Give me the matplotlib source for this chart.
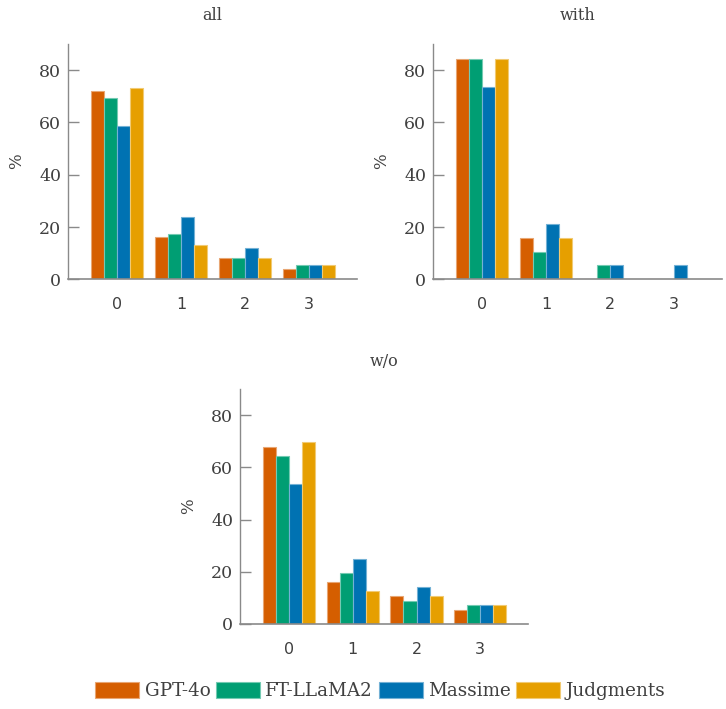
import matplotlib
matplotlib.use("Agg")
import matplotlib.pyplot as plt
import matplotlib.colors as mcolors
import numpy as np

plt.rcParams['font.family'] = ['DejaVu Serif']
plt.rcParams['font.size'] = 10

# data (percent of items per error count)
categories = [0, 1, 2, 3]
series = ["GPT-4o", "FT-LLaMA2", "Massime", "Judgments"]
colors = ["#D55E00", "#009E73", "#0072B2", "#E69F00"]

all_vals = {
    "GPT-4o":    [72.0, 16.0, 8.0, 4.0],
    "FT-LLaMA2": [69.3, 17.3, 8.0, 5.3],
    "Massime":   [58.7, 24.0, 12.0, 5.3],
    "Judgments": [73.3, 13.3, 8.0, 5.3],
}
with_vals = {
    "GPT-4o":    [84.2, 15.8, 0.0, 0.0],
    "FT-LLaMA2": [84.2, 10.5, 5.3, 0.0],
    "Massime":   [73.7, 21.1, 5.3, 5.3],
    "Judgments": [84.2, 15.8, 0.0, 0.0],
}
wo_vals = {
    "GPT-4o":    [67.9, 16.1, 10.7, 5.4],
    "FT-LLaMA2": [64.3, 19.6, 8.9, 7.1],
    "Massime":   [53.6, 25.0, 14.3, 7.1],
    "Judgments": [69.6, 12.5, 10.7, 7.1],
}

text_col = "#404040"
axis_col = "#8a8a8a"


def lighten(c, f=0.45):
    r, g, b = mcolors.to_rgb(c)
    return (r + (1 - r) * f, g + (1 - g) * f, b + (1 - b) * f)


def draw_panel(ax, vals, title):
    x = np.arange(len(categories))
    w = 0.205
    for i, (name, col) in enumerate(zip(series, colors)):
        ax.bar(x + (i - 1.5) * w, vals[name], width=w, color=col,
               edgecolor=lighten(col), linewidth=0.8, label=name, zorder=2)
    ax.set_xlim(-0.77, 3.75)
    ax.set_ylim(0, 90)
    ax.set_xticks(x)
    ax.set_xticklabels([str(c) for c in categories], family='DejaVu Sans')
    ax.set_yticks([0, 20, 40, 60, 80])
    ax.tick_params(axis='x', length=0, pad=13, colors=text_col, labelsize=11.5)
    ax.tick_params(axis='y', direction='in', length=8, width=1, color=axis_col,
                   pad=5, labelcolor=text_col, labelsize=12.5)
    for s in ['top', 'right']:
        ax.spines[s].set_visible(False)
    ax.spines['left'].set_color(axis_col)
    ax.spines['bottom'].set_color(axis_col)
    ax.spines['left'].set_linewidth(1.0)
    ax.spines['bottom'].set_linewidth(1.2)
    ax.set_ylabel("%", color=text_col, labelpad=10, fontsize=12)
    ax.set_title(title, color=text_col, pad=17, fontsize=11.5)


fig = plt.figure(figsize=(7.26, 7.09), dpi=100)
ax1 = fig.add_axes([0.0937, 0.606, 0.398, 0.332])
ax2 = fig.add_axes([0.5964, 0.606, 0.398, 0.332])
ax3 = fig.add_axes([0.3306, 0.120, 0.3967, 0.331])

draw_panel(ax1, all_vals, "all")
draw_panel(ax2, with_vals, "with")
draw_panel(ax3, wo_vals, "w/o")

handles, labels = ax1.get_legend_handles_labels()
leg = fig.legend(handles, labels, loc='center', bbox_to_anchor=(0.524, 0.025),
                 ncol=4, frameon=False, handlelength=2.4, handleheight=0.95,
                 handletextpad=0.3, columnspacing=0.3, fontsize=13.2)
for t in leg.get_texts():
    t.set_color(text_col)

fig.savefig("out.png", dpi=100)
